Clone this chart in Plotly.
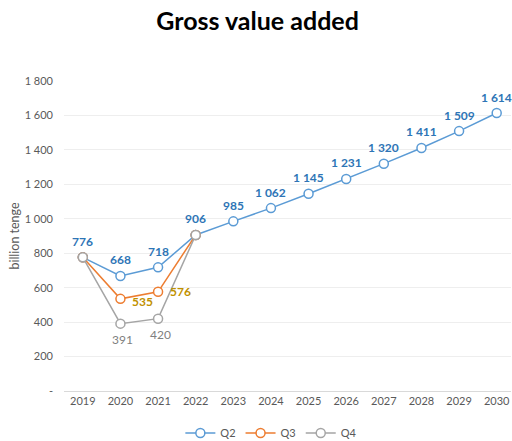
import plotly.graph_objects as go

years = ["2019", "2020", "2021", "2022", "2023", "2024", "2025",
         "2026", "2027", "2028", "2029", "2030"]
q2 = [776, 668, 718, 906, 985, 1062, 1145, 1231, 1320, 1411, 1509, 1614]
q3_years = ["2019", "2020", "2021", "2022"]
q3 = [776, 535, 576, 906]
q4_years = ["2019", "2020", "2021", "2022"]
q4 = [776, 391, 420, 906]
y_ticks = [0, 200, 400, 600, 800, 1000, 1200, 1400, 1600, 1800]

FONT = "Lato"
C_Q2, C_Q3, C_Q4 = "#5B9BD5", "#ED7D31", "#A5A5A5"
L_Q2, L_Q3, L_Q4 = "#2E75B6", "#BF9000", "#7F7F7F"


def fmt(v):
    # thousands separated by a space, zero shown as a dash
    return "-" if v == 0 else f"{v:,}".replace(",", " ")


def pos(year):
    # category index on the x axis
    return years.index(year)


fig = go.Figure()
for name, xs, ys, col in [("Q2", years, q2, C_Q2),
                          ("Q3", q3_years, q3, C_Q3),
                          ("Q4", q4_years, q4, C_Q4)]:
    fig.add_trace(go.Scatter(
        x=xs, y=ys, name=name, mode="lines+markers",
        line=dict(color=col, width=1.5),
        marker=dict(symbol="circle", size=9, color="white",
                    line=dict(color=col, width=1.5)),
        hoverinfo="skip",
    ))

annotations = []
# Q2 labels above the points (the shared 2019 / 2022 points take the Q2 label)
for x, v in zip(years, q2):
    annotations.append(dict(x=pos(x), y=v, text=f"<b>{fmt(v)}</b>", showarrow=False,
                            yshift=16, font=dict(color=L_Q2, size=12, family=FONT)))
# Q3 labels to the right of the dip points
for x, v, ys in zip(q3_years[1:3], q3[1:3], [-3, 0]):
    annotations.append(dict(x=pos(x), y=v, text=f"<b>{fmt(v)}</b>", showarrow=False,
                            xshift=22, yshift=ys,
                            font=dict(color=L_Q3, size=12, family=FONT)))
# Q4 labels below the dip points
for x, v in zip(q4_years[1:3], q4[1:3]):
    annotations.append(dict(x=pos(x), y=v, text=fmt(v), showarrow=False,
                            xshift=2, yshift=-16,
                            font=dict(color=L_Q4, size=12, family=FONT)))

fig.update_layout(
    width=512, height=441,
    margin=dict(l=64, r=1, t=81, b=50),
    paper_bgcolor="white", plot_bgcolor="white",
    font=dict(family=FONT, color="#595959", size=11),
    title=dict(text="<b>Gross value added</b>", x=0.503, xref="container",
               xanchor="center", y=1 - 21 / 441, yref="container",
               yanchor="middle", font=dict(size=25, color="black", family=FONT)),
    showlegend=True,
    legend=dict(orientation="h", xref="container", x=0.53, xanchor="center",
                yref="container", y=1 - 433 / 441, yanchor="middle",
                font=dict(size=11, color="#595959"), itemwidth=30,
                traceorder="normal"),
    annotations=annotations,
    xaxis=dict(type="category", categoryorder="array", categoryarray=years,
               range=[-0.5, 11.38], showgrid=False, showline=True,
               linecolor="#D9D9D9", linewidth=1, ticks="",
               tickfont=dict(size=11, color="#595959")),
    yaxis=dict(range=[0, 1800], tickvals=y_ticks,
               ticktext=[fmt(v) for v in y_ticks],
               showgrid=True, gridcolor="#EEEEEE", gridwidth=1,
               zeroline=False, showline=False, ticks="",
               ticklabelstandoff=10,
               title=dict(text="billion tenge", standoff=2,
                          font=dict(size=12.5, color="#595959")),
               tickfont=dict(size=11, color="#595959")),
)

fig.write_html("out.html")
